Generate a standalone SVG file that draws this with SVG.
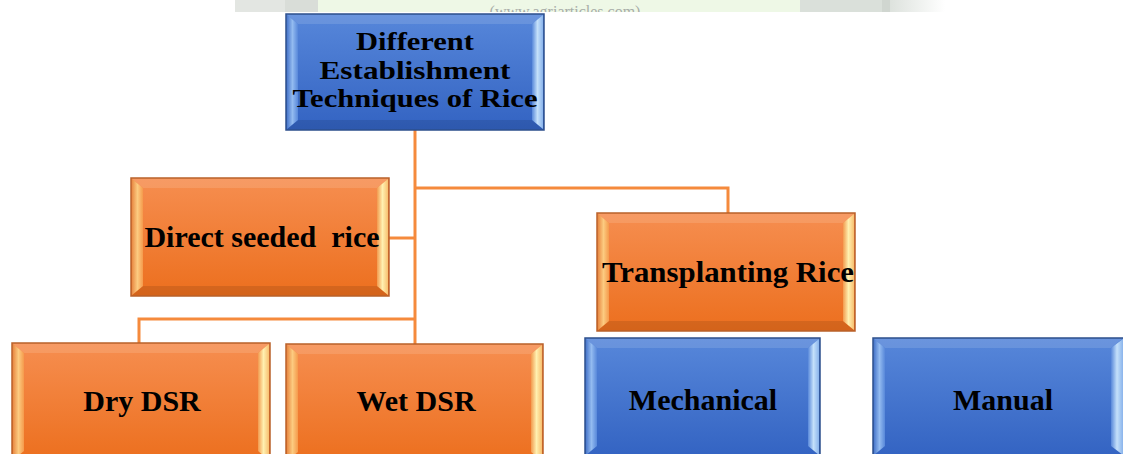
<svg xmlns="http://www.w3.org/2000/svg" width="1123" height="454" viewBox="0 0 1123 454">
<defs>
<style>
.lbl{font-family:"Liberation Serif","Times New Roman",serif;font-weight:bold;font-size:30px;fill:#000;text-anchor:middle}
.rt{font-size:25.5px}
.conn{fill:none;stroke:#F58A3C;stroke-width:3}
.ob{stroke:#B9612A;stroke-width:1.5;fill:none}
.bb{stroke:#2D4F8C;stroke-width:1.5;fill:none}
.tb{fill:#fff;opacity:.12}
.db{fill:#000;opacity:.10}
</style>
<linearGradient id="gO" x1="0" y1="0" x2="0" y2="1"><stop offset="0" stop-color="#F68E50"/><stop offset="1" stop-color="#EC6F1E"/></linearGradient>
<linearGradient id="gB" x1="0" y1="0" x2="0" y2="1"><stop offset="0" stop-color="#5787DA"/><stop offset="1" stop-color="#3363C2"/></linearGradient>
<linearGradient id="oL" x1="0" y1="0" x2="1" y2="0"><stop offset="0" stop-color="#E98A44"/><stop offset="0.5" stop-color="#FCCB80"/><stop offset="1" stop-color="#F59A4C"/></linearGradient>
<linearGradient id="oR" x1="0" y1="0" x2="1" y2="0"><stop offset="0" stop-color="#F29A4E"/><stop offset="0.5" stop-color="#FFF0B0"/><stop offset="1" stop-color="#F8C070"/></linearGradient>
<linearGradient id="bL" x1="0" y1="0" x2="1" y2="0"><stop offset="0" stop-color="#4A78CC"/><stop offset="0.5" stop-color="#93BBF0"/><stop offset="1" stop-color="#5888DA"/></linearGradient>
<linearGradient id="bR" x1="0" y1="0" x2="1" y2="0"><stop offset="0" stop-color="#5888DA"/><stop offset="0.5" stop-color="#C4E0FA"/><stop offset="1" stop-color="#8AB4EC"/></linearGradient>
<linearGradient id="fade" x1="0" y1="0" x2="1" y2="0"><stop offset="0" stop-color="#DDE2DD"/><stop offset="1" stop-color="#FFFFFF"/></linearGradient>
<clipPath id="topclip"><rect x="0" y="0" width="1123" height="12"/></clipPath>
</defs>
<rect width="1123" height="454" fill="#fff"/>
<g id="top-strip" clip-path="url(#topclip)">
<rect x="235" y="0" width="50" height="12" fill="#E3E6E2"/>
<rect x="285" y="0" width="33" height="12" fill="#D9DDD8"/>
<rect x="318" y="0" width="482" height="12" fill="#EEF8E6"/>
<rect x="800" y="0" width="82" height="12" fill="#DAE0DA"/>
<rect x="882" y="0" width="8" height="12" fill="#D0D6D0"/>
<rect x="890" y="0" width="55" height="12" fill="url(#fade)"/>
<text x="565" y="17" font-family="Liberation Serif,serif" font-size="16" fill="#A8ADA8" text-anchor="middle">(www.agriarticles.com)</text>
</g>
<g id="connectors">
<path class="conn" d="M415 130V344"/>
<path class="conn" d="M415 188H728V213"/>
<path class="conn" d="M389 238H415"/>
<path class="conn" d="M415 319H139V343"/>
</g>
<g id="root">
<rect x="286" y="14" width="258" height="116" fill="url(#gB)"/>
<polygon class="tb" points="286,14 544,14 532,24 298,24"/>
<polygon class="db" points="286,130 544,130 532,120 298,120"/>
<polygon fill="url(#bL)" points="287,15 298,24 298,120 287,129"/>
<polygon fill="url(#bR)" points="543,15 532,24 532,120 543,129"/>
<rect class="bb" x="286" y="14" width="258" height="116"/>
<text class="lbl rt" x="415" y="50" textLength="118" lengthAdjust="spacingAndGlyphs">Different</text>
<text class="lbl rt" x="415" y="79" textLength="191" lengthAdjust="spacingAndGlyphs">Establishment</text>
<text class="lbl rt" x="415" y="107" textLength="245" lengthAdjust="spacingAndGlyphs">Techniques of Rice</text>
</g>
<g id="direct-seeded">
<rect x="131" y="178" width="258" height="118" fill="url(#gO)"/>
<polygon class="tb" points="131,178 389,178 377,188 143,188"/>
<polygon class="db" points="131,296 389,296 377,286 143,286"/>
<polygon fill="url(#oL)" points="132,179 143,188 143,286 132,295"/>
<polygon fill="url(#oR)" points="388,179 377,188 377,286 388,295"/>
<rect class="ob" x="131" y="178" width="258" height="118"/>
<text class="lbl" x="262" y="247" style="white-space:pre">Direct seeded  rice</text>
</g>
<g id="transplanting">
<rect x="597" y="213" width="258" height="118" fill="url(#gO)"/>
<polygon class="tb" points="597,213 855,213 843,223 609,223"/>
<polygon class="db" points="597,331 855,331 843,321 609,321"/>
<polygon fill="url(#oL)" points="598,214 609,223 609,321 598,330"/>
<polygon fill="url(#oR)" points="854,214 843,223 843,321 854,330"/>
<rect class="ob" x="597" y="213" width="258" height="118"/>
<text class="lbl" x="728" y="282" textLength="252" lengthAdjust="spacingAndGlyphs">Transplanting Rice</text>
</g>
<g id="dry-dsr">
<rect x="12" y="343" width="258" height="118" fill="url(#gO)"/>
<polygon class="tb" points="12,343 270,343 258,353 24,353"/>
<polygon fill="url(#oL)" points="13,344 24,353 24,451 13,460"/>
<polygon fill="url(#oR)" points="269,344 258,353 258,451 269,460"/>
<rect class="ob" x="12" y="343" width="258" height="118"/>
<text class="lbl" x="142" y="411">Dry DSR</text>
</g>
<g id="wet-dsr">
<rect x="286" y="344" width="257" height="118" fill="url(#gO)"/>
<polygon class="tb" points="286,344 543,344 531,354 298,354"/>
<polygon fill="url(#oL)" points="287,345 298,354 298,452 287,461"/>
<polygon fill="url(#oR)" points="542,345 531,354 531,452 542,461"/>
<rect class="ob" x="286" y="344" width="257" height="118"/>
<text class="lbl" x="416" y="411">Wet DSR</text>
</g>
<g id="mechanical">
<rect x="585" y="338" width="235" height="120" fill="url(#gB)"/>
<polygon class="tb" points="585,338 820,338 808,348 597,348"/>
<polygon fill="url(#bL)" points="586,339 597,348 597,446 586,455"/>
<polygon fill="url(#bR)" points="819,339 808,348 808,446 819,455"/>
<rect class="bb" x="585" y="338" width="235" height="120"/>
<text class="lbl" x="703" y="410">Mechanical</text>
</g>
<g id="manual">
<rect x="873" y="338" width="252" height="120" fill="url(#gB)"/>
<polygon class="tb" points="873,338 1123,338 1111,348 885,348"/>
<polygon fill="url(#bL)" points="874,339 885,348 885,446 874,455"/>
<polygon fill="url(#bR)" points="1123,339 1111,348 1111,446 1123,455"/>
<rect class="bb" x="873" y="338" width="252" height="120"/>
<text class="lbl" x="1003" y="410">Manual</text>
</g>
</svg>
